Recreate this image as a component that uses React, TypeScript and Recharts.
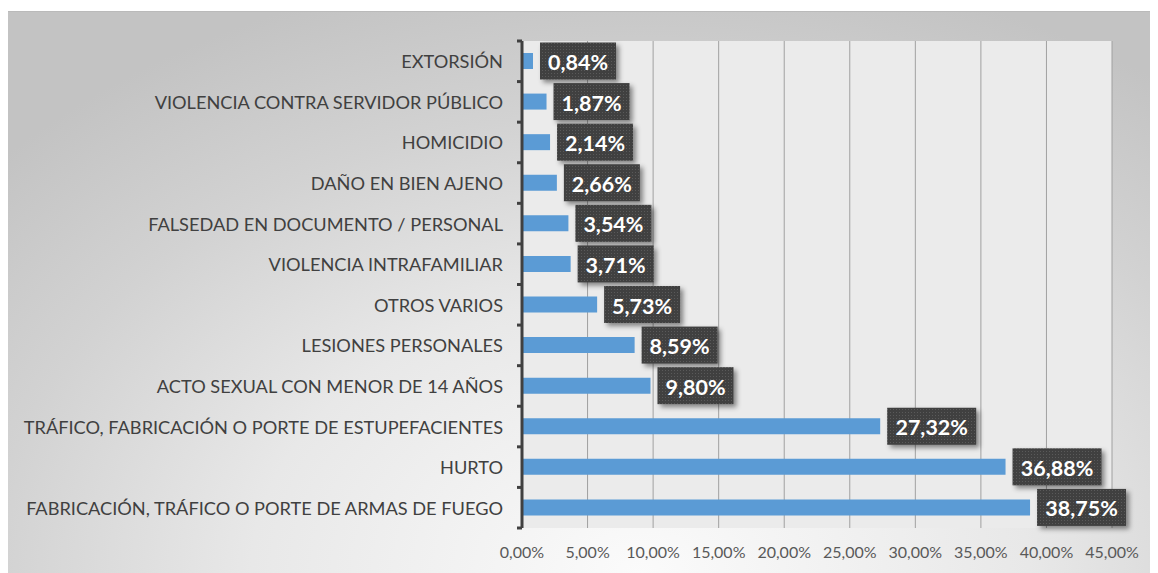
import { BarChart, Bar, XAxis, YAxis, CartesianGrid, LabelList } from "recharts";

const categories = [
  "EXTORSIÓN",
  "VIOLENCIA CONTRA SERVIDOR PÚBLICO",
  "HOMICIDIO",
  "DAÑO EN BIEN AJENO",
  "FALSEDAD EN DOCUMENTO / PERSONAL",
  "VIOLENCIA INTRAFAMILIAR",
  "OTROS VARIOS",
  "LESIONES PERSONALES",
  "ACTO SEXUAL CON MENOR DE 14 AÑOS",
  "TRÁFICO, FABRICACIÓN O PORTE DE ESTUPEFACIENTES",
  "HURTO",
  "FABRICACIÓN, TRÁFICO O PORTE DE ARMAS DE FUEGO",
];
const percents = [0.84, 1.87, 2.14, 2.66, 3.54, 3.71, 5.73, 8.59, 9.8, 27.32, 36.88, 38.75];
const xTicks = [0, 5, 10, 15, 20, 25, 30, 35, 40, 45];

const data = categories.map((name, i) => ({ name, value: percents[i] }));

const W = 1151;
const H = 562;
const MARGIN = { top: 29, right: 46, left: 0, bottom: 15 };
const X_AXIS_H = 30;
const plotH = H - 1 - MARGIN.top - MARGIN.bottom - X_AXIS_H;
const band = plotH / categories.length;

const fmt = (v: number) => v.toFixed(2).replace(".", ",") + "%";

const CategoryTick = (props: any) => {
  const { x, y, payload, index } = props;
  return (
    <g>
      <text
        x={x}
        y={y}
        textAnchor="end"
        dominantBaseline="central"
        fontFamily="Lato"
        fontSize={18.2}
        fill="#404040"
      >
        {payload.value}
      </text>
      <line x1={x + 14} x2={x + 19} y1={y - band / 2} y2={y - band / 2} stroke="#404040" strokeWidth={3} />
      {index === categories.length - 1 && (
        <line x1={x + 14} x2={x + 19} y1={y + band / 2} y2={y + band / 2} stroke="#404040" strokeWidth={3} />
      )}
    </g>
  );
};

const ValueLabel = (props: any) => {
  const { x, y, width, height, value } = props;
  const txt = fmt(Number(value));
  const bw = txt.length * 13 + 11;
  const bx = x + width + 7;
  const cy = y + height / 2;
  return (
    <g>
      <rect x={bx} y={cy - 18.5} width={bw} height={37} fill="url(#dots)" filter="url(#shadow)" />
      <text
        x={bx + bw / 2}
        y={cy + 1}
        textAnchor="middle"
        dominantBaseline="central"
        fontFamily="Lato"
        fontWeight={700}
        fontSize={21.5}
        fill="#ffffff"
      >
        {txt}
      </text>
    </g>
  );
};

export default function App() {
  return (
    <div
      style={{
        marginLeft: -1,
        marginTop: 3,
        width: W,
        height: H,
        borderTop: "1px solid #bababa",
        background:
          "radial-gradient(ellipse 75% 110% at 55% 100%, #fbfbfb 0%, #e8e8e8 45%, #d2d2d2 75%, #c3c3c3 100%)",
      }}
    >
      <BarChart width={W} height={H - 1} data={data} layout="vertical" margin={MARGIN} barSize={16}>
        <defs>
          <pattern id="dots" width="3" height="3" patternUnits="userSpaceOnUse">
            <rect width="3" height="3" fill="#3f3f3f" />
            <rect x="1" y="1" width="1" height="1" fill="#5a5a5a" />
          </pattern>
          <filter id="shadow" x="-20%" y="-30%" width="150%" height="170%">
            <feDropShadow dx="3" dy="3" stdDeviation="2.5" floodColor="#000" floodOpacity="0.45" />
          </filter>
        </defs>
        <CartesianGrid horizontal={false} stroke="#a0a0a0" fill="#ebebeb" />
        <XAxis
          type="number"
          domain={[0, 45]}
          ticks={xTicks}
          tickFormatter={fmt}
          axisLine={false}
          tickLine={false}
          tickSize={0}
          tickMargin={19}
          height={X_AXIS_H}
          interval={0}
          tick={{ fontFamily: "Lato", fontSize: 16, fill: "#595959" }}
        />
        <YAxis
          type="category"
          dataKey="name"
          width={515}
          axisLine={{ stroke: "#404040", strokeWidth: 3 }}
          tickLine={false}
          tickSize={0}
          tickMargin={19}
          interval={0}
          tick={<CategoryTick />}
        />
        <Bar dataKey="value" fill="#5b9bd5" isAnimationActive={false}>
          <LabelList dataKey="value" content={<ValueLabel />} />
        </Bar>
      </BarChart>
    </div>
  );
}
